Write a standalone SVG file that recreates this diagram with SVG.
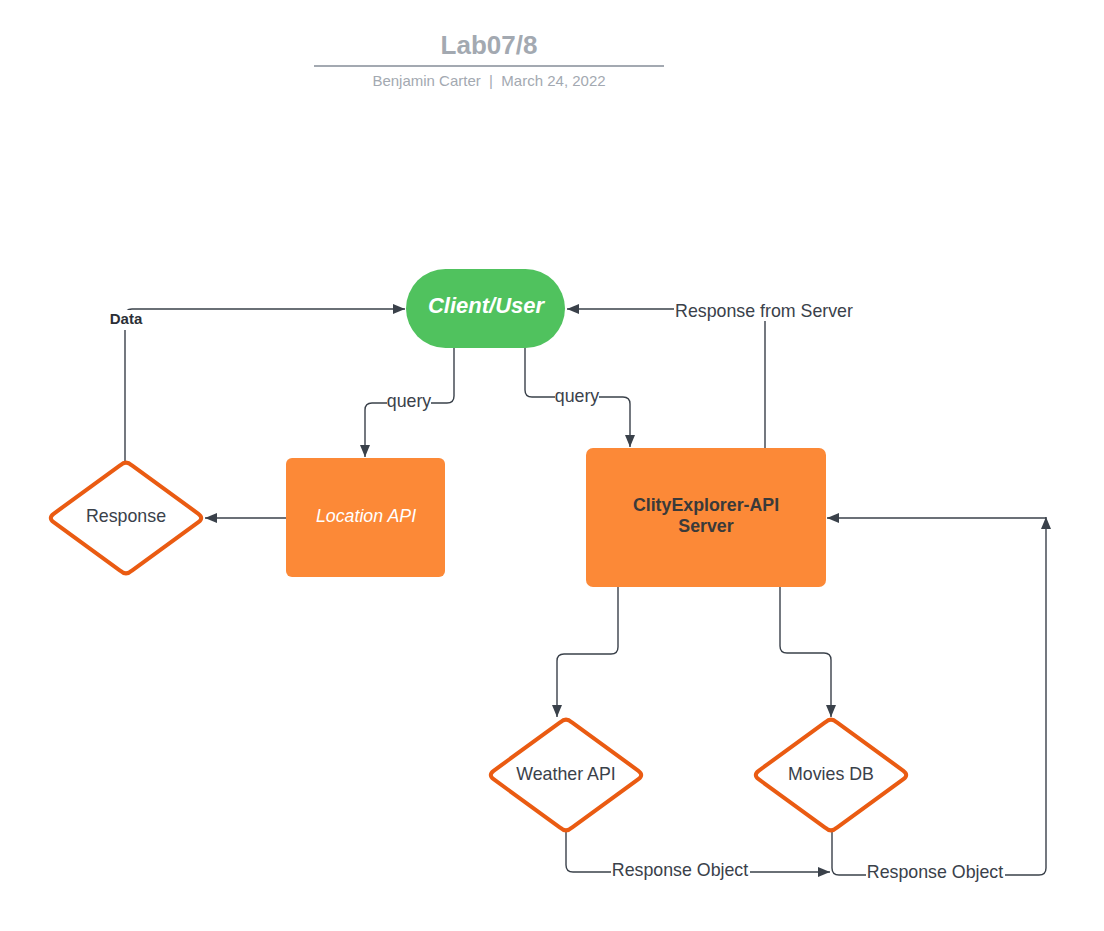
<svg xmlns="http://www.w3.org/2000/svg" width="1104" height="931" viewBox="0 0 1104 931">
<style>
text{font-family:"Liberation Sans",Arial,sans-serif;}
.c{fill:none;stroke:#3a414a;stroke-width:1.4;}
.lbl{font-size:17.8px;fill:#3a414a;text-anchor:middle;}
.dia{fill:#fff;stroke:#ea5b12;stroke-width:4;stroke-linejoin:round;}
.box{fill:#fc8937;}
.bg{fill:#fff;}
</style>
<defs>
<marker id="ah" viewBox="0 0 12 10" refX="12" refY="5" markerWidth="12" markerHeight="10" markerUnits="userSpaceOnUse" orient="auto">
<path d="M0,0 L12,5 L0,10 Z" fill="#3a414a"/>
</marker>
</defs>
<rect width="1104" height="931" fill="#fff"/>
<g id="title">
<text x="489" y="54" font-size="26" font-weight="bold" fill="#a3a9b1" text-anchor="middle">Lab07/8</text>
<line x1="314" y1="66" x2="664" y2="66" stroke="#a3a9b1" stroke-width="2"/>
<text x="489" y="86" font-size="15" fill="#a3a9b1" text-anchor="middle" style="white-space:pre">Benjamin Carter  |  March 24, 2022</text>
</g>
<g id="connectors">
<path class="c" d="M125,461 V316 Q125,309 132,309 H405" marker-end="url(#ah)"/>
<rect class="bg" x="104" y="310" width="42" height="20"/>
<text x="126" y="324" font-size="15" font-weight="bold" fill="#2b2f36" text-anchor="middle">Data</text>
<path class="c" d="M286,518 H205" marker-end="url(#ah)"/>
<path class="c" d="M454,348 V396 Q454,403 447,403 H372 Q365,403 365,410 V457" marker-end="url(#ah)"/>
<rect class="bg" x="387" y="391" width="44" height="20"/>
<text class="lbl" x="409" y="407">query</text>
<path class="c" d="M525,348 V390 Q525,397 532,397 H623 Q630,397 630,404 V447" marker-end="url(#ah)"/>
<rect class="bg" x="555" y="386" width="44" height="20"/>
<text class="lbl" x="577" y="402">query</text>
<path class="c" d="M765,448 V309 H567" marker-end="url(#ah)"/>
<rect class="bg" x="674" y="299" width="181" height="22"/>
<text class="lbl" x="764" y="317">Response from Server</text>
<path class="c" d="M618,587 V647 Q618,654 611,654 H564 Q557,654 557,661 V717" marker-end="url(#ah)"/>
<path class="c" d="M780,587 V646 Q780,653 787,653 H824 Q831,653 831,660 V717" marker-end="url(#ah)"/>
<path class="c" d="M566,832 V865 Q566,872 573,872 H830" marker-end="url(#ah)"/>
<rect class="bg" x="611" y="860" width="139" height="22"/>
<text class="lbl" x="680" y="876">Response Object</text>
<path class="c" d="M832,832 V868 Q832,875 839,875 H1039 Q1046,875 1046,868 V517" marker-end="url(#ah)"/>
<rect class="bg" x="866" y="862" width="139" height="22"/>
<text class="lbl" x="935" y="878">Response Object</text>
<path class="c" d="M1046,518 H827" marker-end="url(#ah)"/>
</g>
<g id="client">
<rect x="406" y="269" width="159" height="79" rx="39.5" fill="#50c25e"/>
<text x="486" y="313" font-size="22" font-weight="bold" font-style="italic" fill="#fff" text-anchor="middle">Client/User</text>
</g>
<g id="location-api">
<rect class="box" x="286" y="458" width="159" height="119" rx="6"/>
<text x="366" y="522" font-size="17.8" font-style="italic" fill="#fff" text-anchor="middle">Location API</text>
</g>
<g id="server">
<rect class="box" x="586" y="448" width="240" height="139" rx="7"/>
<text x="706" y="511" font-size="17.8" font-weight="bold" fill="#3a3a3a" text-anchor="middle">ClityExplorer-API</text>
<text x="706" y="532" font-size="17.8" font-weight="bold" fill="#3a3a3a" text-anchor="middle">Server</text>
</g>
<g id="response">
<path class="dia" d="M120.4,465.2 Q126,460 131.6,465.2 L198.4,513.8 Q204,518 198.4,522.2 L131.6,570.8 Q126,576 120.4,570.8 L53.6,522.2 Q48,518 53.6,513.8 Z"/>
<text class="lbl" x="126" y="522">Response</text>
</g>
<g id="weather-api">
<path class="dia" d="M560.4,722.2 Q566,717 571.6,722.2 L638.4,770.8 Q644,775 638.4,779.2 L571.6,827.8 Q566,833 560.4,827.8 L493.6,779.2 Q488,775 493.6,770.8 Z"/>
<text class="lbl" x="566" y="780">Weather API</text>
</g>
<g id="movies-db">
<path class="dia" d="M825.4,722.2 Q831,717 836.6,722.2 L903.4,770.8 Q909,775 903.4,779.2 L836.6,827.8 Q831,833 825.4,827.8 L758.6,779.2 Q753,775 758.6,770.8 Z"/>
<text class="lbl" x="831" y="780">Movies DB</text>
</g>
</svg>
